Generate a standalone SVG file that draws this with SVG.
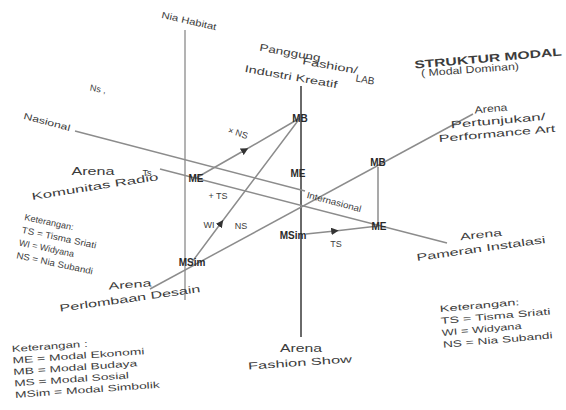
<svg xmlns="http://www.w3.org/2000/svg" width="566" height="410" viewBox="0 0 566 410">
  <style>
    text { font-family: "Liberation Sans", Arial, sans-serif; fill: #3c3c3c; }
    .lbl { font-size: 10px; }
    .sm { font-size: 9px; }
    .node { font-size: 10px; font-weight: bold; fill: #2a2a2a; }
    .title { font-size: 11px; font-weight: bold; }
    .ln { stroke: #8c8c8c; stroke-width: 1.5; fill: none; }
    .axis { stroke: #6a6a6a; stroke-width: 2; fill: none; }
    .axis2 { stroke: #9a9a9a; stroke-width: 1.5; fill: none; }
  </style>
  <defs>
    <marker id="tip" viewBox="0 0 10 10" refX="5" refY="5" markerWidth="5" markerHeight="5" orient="auto">
      <path d="M0,0 L10,5 L0,10 z" fill="#333"/>
    </marker>
  </defs>
  <rect width="566" height="410" fill="#ffffff"/>

  <!-- axes and arena lines -->
  <g id="connectors">
    <line class="axis2" x1="185" y1="30" x2="185" y2="300"/>
    <line class="axis" x1="301" y1="86" x2="301" y2="337"/>
    <line class="ln" x1="75" y1="131" x2="305" y2="191"/>
    <line class="ln" x1="160" y1="169" x2="447" y2="243"/>
    <line class="ln" x1="150" y1="289" x2="473" y2="114"/>
    <line class="ln" x1="378" y1="167" x2="378" y2="222"/>
    <polyline class="ln" points="196,178 245,150 300,118" marker-mid="url(#tip)"/>
    <polyline class="ln" points="192,262 221,223 300,118" marker-mid="url(#tip)"/>
    <polyline class="ln" points="306,234 335,231 378,226" marker-mid="url(#tip)"/>
  </g>

  <!-- axis labels -->
  <g id="habitat">
    <text class="sm" transform="translate(189,21) rotate(13)" text-anchor="middle" dy="3" textLength="56" lengthAdjust="spacingAndGlyphs">Nia Habitat</text>
  </g>
  <g id="ns-note">
    <text class="sm" transform="translate(98,89) rotate(10)" text-anchor="middle" dy="3">Ns ,</text>
  </g>
  <g id="nasional">
    <text class="sm" transform="translate(47,122) rotate(15)" text-anchor="middle" dy="3" textLength="48" lengthAdjust="spacingAndGlyphs">Nasional</text>
  </g>
  <g id="internasional">
    <text class="sm" transform="translate(334,202) rotate(15)" text-anchor="middle" dy="3" textLength="56" lengthAdjust="spacingAndGlyphs">Internasional</text>
  </g>

  <!-- top label -->
  <g id="arena-lab">
    <text class="lbl" transform="translate(290,53) rotate(10)" text-anchor="middle" dy="3" textLength="62" lengthAdjust="spacingAndGlyphs">Panggung</text>
    <text class="lbl" transform="translate(330,66) rotate(10)" text-anchor="middle" dy="3" textLength="56" lengthAdjust="spacingAndGlyphs">Fashion/</text>
    <text class="lbl" transform="translate(291,77) rotate(10)" text-anchor="middle" dy="3" textLength="94" lengthAdjust="spacingAndGlyphs">Industri Kreatif</text>
    <text class="lbl" transform="translate(365,80) rotate(10)" text-anchor="middle" dy="3">LAB</text>
  </g>

  <!-- title -->
  <g id="title">
    <text class="title" transform="translate(488,58) rotate(-5)" text-anchor="middle" dy="4" textLength="148" lengthAdjust="spacingAndGlyphs">STRUKTUR MODAL</text>
    <text class="lbl" transform="translate(470,70) rotate(-4)" text-anchor="middle" dy="3" textLength="98" lengthAdjust="spacingAndGlyphs">( Modal Dominan)</text>
  </g>

  <!-- arenas -->
  <g id="arena-pertunjukan">
    <text class="lbl" transform="translate(491,109) rotate(-5)" text-anchor="middle" dy="3" textLength="33" lengthAdjust="spacingAndGlyphs">Arena</text>
    <text class="lbl" transform="translate(498,121) rotate(-5)" text-anchor="middle" dy="3" textLength="95" lengthAdjust="spacingAndGlyphs">Pertunjukan/</text>
    <text class="lbl" transform="translate(497,134) rotate(-5)" text-anchor="middle" dy="3" textLength="117" lengthAdjust="spacingAndGlyphs">Performance Art</text>
  </g>
  <g id="arena-pameran">
    <text class="lbl" transform="translate(481,235) rotate(-6)" text-anchor="middle" dy="3" textLength="42" lengthAdjust="spacingAndGlyphs">Arena</text>
    <text class="lbl" transform="translate(481,249) rotate(-8)" text-anchor="middle" dy="3" textLength="130" lengthAdjust="spacingAndGlyphs">Pameran Instalasi</text>
  </g>
  <g id="arena-fashion">
    <text class="lbl" transform="translate(301,349)" text-anchor="middle" dy="3" textLength="42" lengthAdjust="spacingAndGlyphs">Arena</text>
    <text class="lbl" transform="translate(300,363) rotate(-4)" text-anchor="middle" dy="3" textLength="104" lengthAdjust="spacingAndGlyphs">Fashion Show</text>
  </g>
  <g id="arena-komunitas">
    <text class="lbl" transform="translate(93,172)" text-anchor="middle" dy="3" textLength="43" lengthAdjust="spacingAndGlyphs">Arena</text>
    <text class="lbl" transform="translate(95,187) rotate(-9)" text-anchor="middle" dy="3" textLength="128" lengthAdjust="spacingAndGlyphs">Komunitas Radio</text>
    <text class="sm" transform="translate(147,173)" text-anchor="middle" dy="3">Ts</text>
  </g>
  <g id="arena-perlombaan">
    <text class="lbl" transform="translate(130,285) rotate(-4)" text-anchor="middle" dy="3" textLength="43" lengthAdjust="spacingAndGlyphs">Arena</text>
    <text class="lbl" transform="translate(130,299) rotate(-8)" text-anchor="middle" dy="3" textLength="142" lengthAdjust="spacingAndGlyphs">Perlombaan Desain</text>
  </g>

  <!-- capital nodes -->
  <g id="mb-top"><text class="node" x="300" y="122" text-anchor="middle">MB</text></g>
  <g id="me-center"><text class="node" x="298" y="177" text-anchor="middle">ME</text></g>
  <g id="msim-center"><text class="node" x="293" y="239" text-anchor="middle">MSim</text></g>
  <g id="mb-right"><text class="node" x="378" y="166" text-anchor="middle">MB</text></g>
  <g id="me-right"><text class="node" x="379" y="230" text-anchor="middle">ME</text></g>
  <g id="me-left"><text class="node" x="196" y="182" text-anchor="middle">ME</text></g>
  <g id="msim-left"><text class="node" x="192" y="266" text-anchor="middle">MSim</text></g>

  <!-- agent marks -->
  <g id="agents">
    <text class="sm" transform="translate(238,133) rotate(18)" text-anchor="middle" dy="3">× NS</text>
    <text class="sm" x="218" y="199" text-anchor="middle">+ TS</text>
    <text class="sm" x="209" y="228" text-anchor="middle">WI</text>
    <text class="sm" x="241" y="229" text-anchor="middle">NS</text>
    <text class="sm" x="336" y="247" text-anchor="middle">TS</text>
  </g>

  <!-- legends -->
  <g id="legend-agents-left" transform="translate(24,220) rotate(12)">
    <text class="sm" x="0" y="0" textLength="50" lengthAdjust="spacingAndGlyphs">Keterangan:</text>
    <text class="sm" x="0" y="13" textLength="76" lengthAdjust="spacingAndGlyphs">TS = Tisma Sriati</text>
    <text class="sm" x="0" y="26" textLength="56" lengthAdjust="spacingAndGlyphs">WI = Widyana</text>
    <text class="sm" x="0" y="39" textLength="78" lengthAdjust="spacingAndGlyphs">NS = Nia Subandi</text>
  </g>
  <g id="legend-capital" transform="translate(12,352) rotate(-4)">
    <text class="sm" x="0" y="0" textLength="76" lengthAdjust="spacingAndGlyphs">Keterangan :</text>
    <text class="sm" x="0" y="11.5" textLength="132" lengthAdjust="spacingAndGlyphs">ME = Modal Ekonomi</text>
    <text class="sm" x="0" y="23" textLength="124" lengthAdjust="spacingAndGlyphs">MB = Modal Budaya</text>
    <text class="sm" x="0" y="34.5" textLength="115" lengthAdjust="spacingAndGlyphs">MS = Modal Sosial</text>
    <text class="sm" x="0" y="46" textLength="145" lengthAdjust="spacingAndGlyphs">MSim = Modal Simbolik</text>
  </g>
  <g id="legend-agents-right" transform="translate(440,312) rotate(-5)">
    <text class="sm" x="0" y="0" textLength="80" lengthAdjust="spacingAndGlyphs">Keterangan:</text>
    <text class="sm" x="0" y="12" textLength="110" lengthAdjust="spacingAndGlyphs">TS = Tisma Sriati</text>
    <text class="sm" x="0" y="24" textLength="80" lengthAdjust="spacingAndGlyphs">WI = Widyana</text>
    <text class="sm" x="0" y="36" textLength="110" lengthAdjust="spacingAndGlyphs">NS = Nia Subandi</text>
  </g>
</svg>
